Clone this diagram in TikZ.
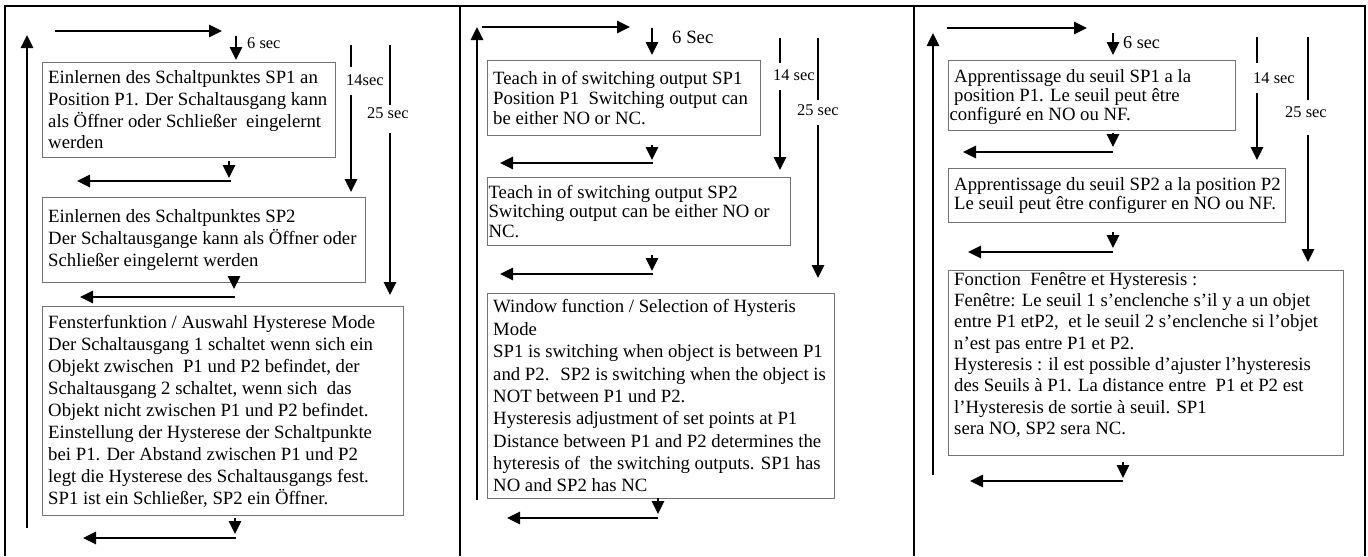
\documentclass[tikz,border=0pt]{standalone}
\usepackage{fontspec}
\setmainfont{Liberation Serif}
\usetikzlibrary{arrows.meta}

\newcommand{\boxfont}{\fontsize{16}{18.5}\selectfont}

\tikzset{
  frameline/.style={line width=1.7pt},
  thk/.style={line width=1.6pt},
  arr/.style={thk, -{Triangle[width=0.37cm,length=0.39cm]}},
  box/.style n args={2}{draw=black!55, line width=0.8pt, anchor=north west,
    inner sep=0pt, minimum width=#1*0.03cm, minimum height=#2*0.03cm},
  txt/.style={anchor=west, align=left, inner sep=0pt, font=\boxfont},
  lbl/.style={anchor=west, inner sep=0pt, font=\fontsize{14}{16}\selectfont}
}

\begin{document}
\begin{tikzpicture}[x=0.03cm, y=-0.03cm]
    \useasboundingbox (0,0) rectangle (1368,556);
    % table frame
    \draw[frameline] (5,556) -- (5,6) -- (1365,6) -- (1365,556);
    \draw[frameline] (460,6) -- (460,556) (914,6) -- (914,556);

    % --- German ---
    \node[box={293}{95}] (de1) at (42,62) {};
    \node[box={323}{85}] (de2) at (42,197) {};
    \node[box={361}{209}] (de3) at (42,306) {};
    \node[txt] (de1t) at ([xshift=0.18cm]de1.west)
      {Einlernen des Schaltpunktes SP1 an\\Position P1. Der Schaltausgang kann\\als Öffner oder Schließer~ eingelernt\\werden};
    \node[txt] (de2t) at ([xshift=0.18cm]de2.west)
      {Einlernen des Schaltpunktes SP2\\Der Schaltausgange kann als Öffner oder\\Schließer eingelernt werden};
    \node[txt, font=\fontsize{16}{18.8}\selectfont] (de3t) at ([xshift=0.18cm]de3.west)
      {Fensterfunktion / Auswahl Hysterese Mode\\Der Schaltausgang 1 schaltet wenn sich ein\\Objekt zwischen~ P1 und P2 befindet, der\\Schaltausgang 2 schaltet, wenn sich~ das\\Objekt nicht zwischen P1 und P2 befindet.\\Einstellung der Hysterese der Schaltpunkte\\bei P1. Der Abstand zwischen P1 und P2\\legt die Hysterese des Schaltausgangs fest.\\SP1 ist ein Schließer, SP2 ein Öffner.};
    \node[lbl] (de6) at (247,43) {6 sec};
    \node[lbl] (de14) at (346,80) {14sec};
    \node[lbl] (de25) at (367,113) {25 sec};
    \draw[arr] (27,528) -- (27,35);
    \draw[arr] (55,31) -- (222,31);
    \draw[arr] (236,36) -- (236,60);
    \draw[thk] (351,45) -- (351,67);
    \draw[arr] (351,95) -- (351,192);
    \draw[thk] (390,45) -- (390,105);
    \draw[arr] (390,133) -- (390,295);
    \draw[arr] (229,161) -- (229,178);
    \draw[arr] (231,181) -- (77,181);
    \draw[arr] (234,276) -- (234,289);
    \draw[arr] (235,297) -- (80,297);
    \draw[arr] (235,518) -- (235,534);
    \draw[arr] (236,538) -- (83,538);

    % --- English ---
    \node[box={273}{75}] (en1) at (487,60) {};
    \node[box={303}{68}] (en2) at (487,177) {};
    \node[box={347}{205}] (en3) at (487,293) {};
    \node[txt, font=\fontsize{16}{17.3}\selectfont] (en1t) at ([xshift=0.18cm]en1.west)
      {Teach in of switching output SP1\\Position P1~ Switching output can\\be either NO or NC.};
    \node[txt, font=\fontsize{16}{16.6}\selectfont] (en2t) at ([xshift=0.04cm]en2.west)
      {Teach in of switching output SP2\\Switching output can be either NO or\\NC.};
    \node[txt, font=\fontsize{16}{19.1}\selectfont] (en3t) at ([xshift=0.18cm]en3.west)
      {Window function / Selection of Hysteris\\Mode\\SP1 is switching when object is between P1\\and P2.~ SP2 is switching when the object is\\NOT between P1 und P2.\\Hysteresis adjustment of set points at P1\\Distance between P1 and P2 determines the\\hyteresis of~ the switching outputs. SP1 has\\NO and SP2 has NC};
    \node[lbl, font=\fontsize{16}{18}\selectfont] (en6) at (672,37) {6 Sec};
    \node[lbl] (en14) at (773,75) {14 sec};
    \node[lbl] (en25) at (797,110) {25 sec};
    \draw[arr] (477,500) -- (477,27);
    \draw[arr] (482,27) -- (630,27);
    \draw[arr] (652,28) -- (652,55);
    \draw[thk] (780,38) -- (780,63);
    \draw[arr] (780,90) -- (780,170);
    \draw[thk] (818,38) -- (818,100);
    \draw[arr] (818,125) -- (818,278);
    \draw[arr] (652,145) -- (652,160);
    \draw[arr] (653,163) -- (500,163);
    \draw[arr] (652,255) -- (652,271);
    \draw[arr] (653,274) -- (500,274);
    \draw[arr] (658,498) -- (658,514);
    \draw[arr] (658,518) -- (507,518);

    % --- French ---
    \node[box={287}{70}] (fr1) at (948,60) {};
    \node[box={337}{54}] (fr2) at (948,168) {};
    \node[box={395}{185}] (fr3) at (948,270) {};
    \node[txt, font=\fontsize{16}{16.4}\selectfont] (fr1t) at ([xshift=0.04cm,yshift=-0.05cm]fr1.west)
      {\hspace*{0.14cm}Apprentissage du seuil SP1 a la\\\hspace*{0.14cm}position P1. Le seuil peut être\\configuré en NO ou NF.};
    \node[txt, font=\fontsize{16}{16}\selectfont] (fr2t) at ([xshift=0.18cm]fr2.west)
      {Apprentissage du seuil SP2 a la position P2\\Le seuil peut être configurer en NO ou NF.};
    \node[txt, font=\fontsize{16}{18.2}\selectfont] (fr3t) at ([xshift=0.18cm,yshift=0.25cm]fr3.west)
      {Fonction~ Fenêtre et Hysteresis :\\Fenêtre: Le seuil 1 s’enclenche s’il y a un objet\\entre P1 etP2,~ et le seuil 2 s’enclenche si l’objet\\n’est pas entre P1 et P2.\\Hysteresis : il est possible d’ajuster l’hysteresis\\des Seuils à P1. La distance entre~ P1 et P2 est\\l’Hysteresis de sortie à seuil. SP1\\sera NO, SP2 sera NC.};
    \node[lbl, font=\fontsize{15.5}{18}\selectfont] (fr6) at (1123,43) {6 sec};
    \node[lbl] (fr14) at (1253,78) {14 sec};
    \node[lbl] (fr25) at (1285,112) {25 sec};
    \draw[arr] (933,475) -- (933,33);
    \draw[arr] (947,28) -- (1087,28);
    \draw[arr] (1113,33) -- (1113,55);
    \draw[thk] (1257,37) -- (1257,63);
    \draw[arr] (1257,93) -- (1257,160);
    \draw[thk] (1308,37) -- (1308,100);
    \draw[arr] (1308,135) -- (1308,262);
    \draw[arr] (1113,133) -- (1113,147);
    \draw[arr] (1113,152) -- (963,152);
    \draw[arr] (1113,232) -- (1113,248);
    \draw[arr] (1113,252) -- (968,252);
    \draw[arr] (1123,462) -- (1123,478);
    \draw[arr] (1123,481) -- (970,481);
  \end{tikzpicture}
\end{document}
